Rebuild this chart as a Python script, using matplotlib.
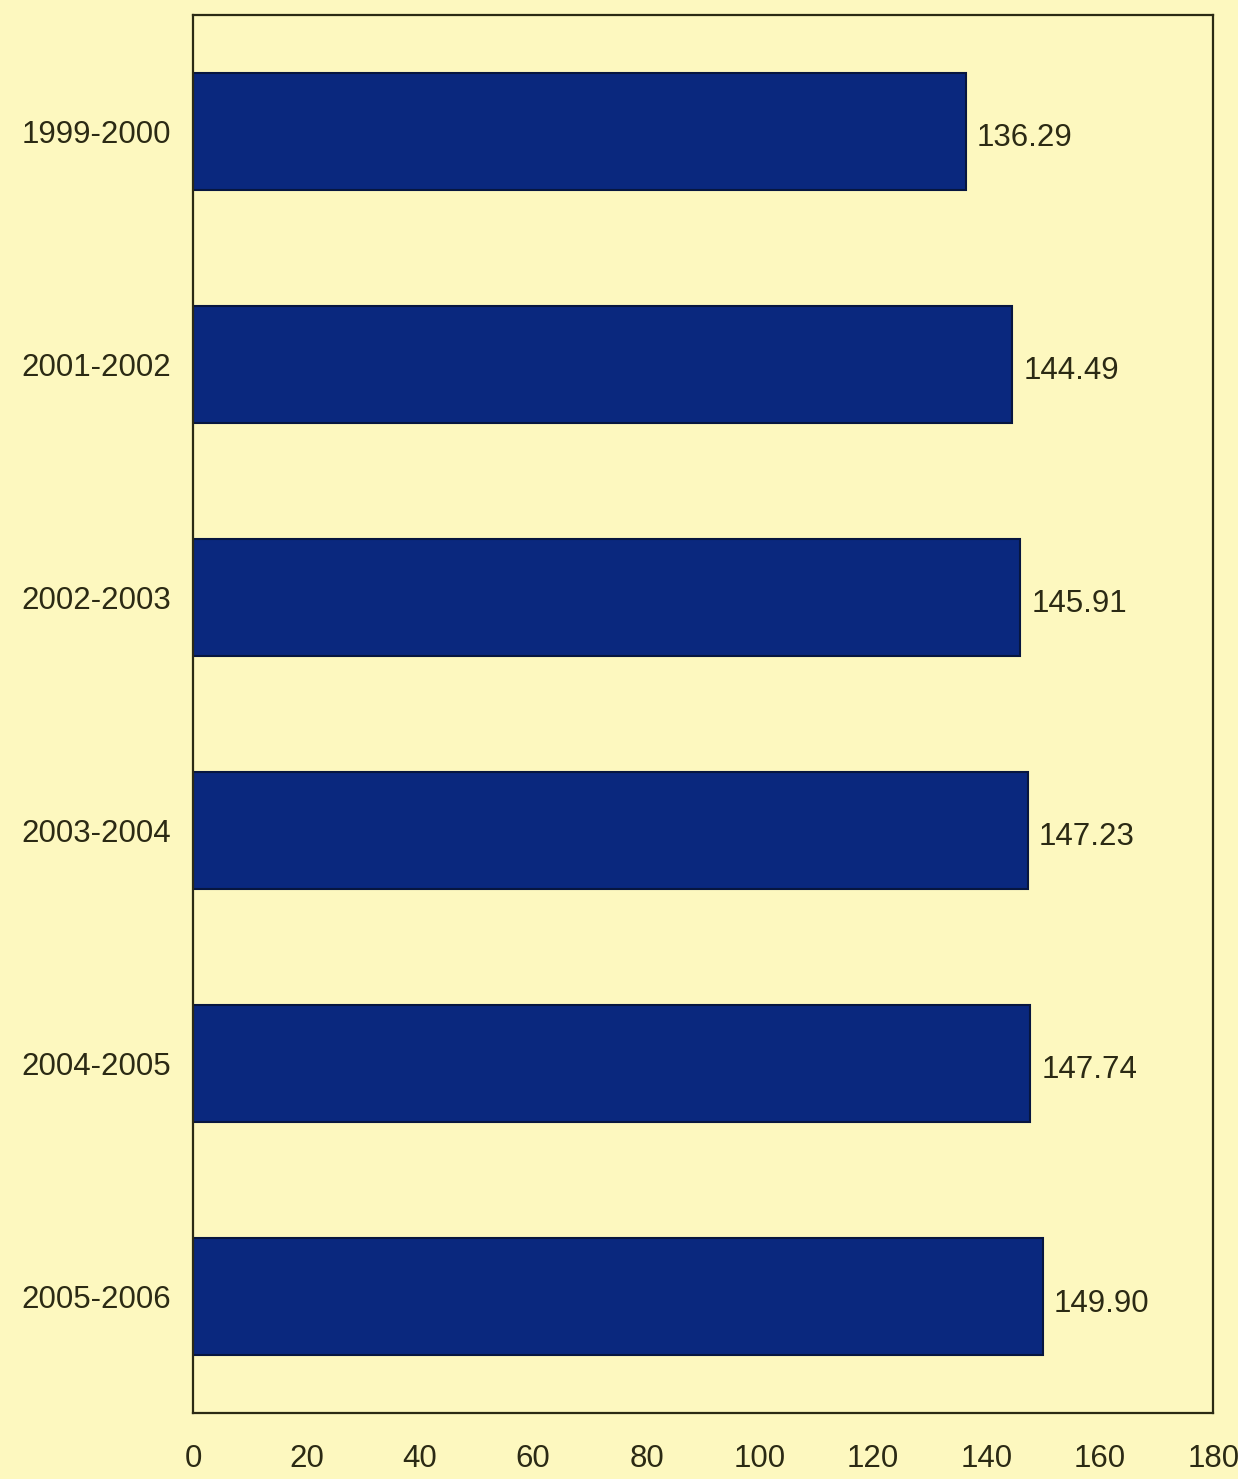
import matplotlib
matplotlib.use("Agg")
import matplotlib.pyplot as plt
import numpy as np

# data
years = ["1999-2000", "2001-2002", "2002-2003", "2003-2004", "2004-2005", "2005-2006"]
values = [136.29, 144.49, 145.91, 147.23, 147.74, 149.90]
xticks = [0, 20, 40, 60, 80, 100, 120, 140, 160, 180]

plt.rcParams['font.family'] = ['Liberation Sans', 'DejaVu Sans']

bg = '#fdf8bf'
bar_col = '#0a287e'
ink = '#2b2a14'

fig = plt.figure(figsize=(12.38, 14.79), dpi=100, facecolor=bg)
ax = fig.add_axes([0.156, 0.0446, 0.824, 0.9454])
ax.set_facecolor(bg)

y = np.arange(len(years))
ax.barh(y, values, height=0.5, color=bar_col, edgecolor='#07163f', linewidth=1.5)

for yi, v in zip(y, values):
    ax.text(v + 2.0, yi + 0.03, f"{v:.2f}", va='center', ha='left', fontsize=22.5, color=ink)

ax.set_xlim(0, 180)
ax.set_ylim(len(years) - 0.5, -0.5)
ax.set_yticks(y)
ax.set_yticklabels(years, fontsize=22.5, color=ink)
ax.set_xticks(xticks)
ax.set_xticklabels([str(t) for t in xticks], fontsize=22.5, color=ink)
ax.tick_params(axis='y', length=0, pad=16)
ax.tick_params(axis='x', length=0, pad=22)

for s in ax.spines.values():
    s.set_color(ink)
    s.set_linewidth(1.6)

fig.savefig("out.png", dpi=100, facecolor=bg)
